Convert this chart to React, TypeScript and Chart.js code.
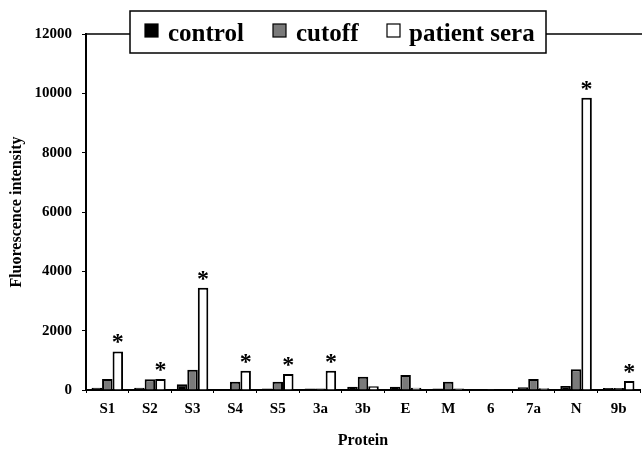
import React, { useEffect, useRef } from "react";
import { Chart, registerables } from "chart.js";

Chart.register(...registerables);

const categories = ["S1", "S2", "S3", "S4", "S5", "3a", "3b", "E", "M", "6", "7a", "N", "9b"];
const controlValues = [80, 80, 190, 15, 50, 50, 110, 110, 50, 30, 90, 135, 70];
const cutoffValues = [370, 360, 680, 280, 280, 50, 450, 505, 280, 30, 370, 700, 70];
const patientValues = [1300, 370, 3450, 650, 540, 650, 130, 80, 50, 20, 60, 9850, 300];
const significant = [true, true, true, true, true, true, false, false, false, false, false, true, true];
const yTicks = [0, 2000, 4000, 6000, 8000, 10000, 12000];
const legendLabels = ["control", "cutoff", "patient sera"];

const SERIF = "'Liberation Serif', 'Times New Roman', serif";

const framePlugin = {
  id: "framePlugin",
  afterDraw(chart: any) {
    const { ctx, chartArea } = chart;
    ctx.save();
    // top border line
    ctx.strokeStyle = "#000";
    ctx.lineWidth = 1.5;
    ctx.beginPath();
    ctx.moveTo(chartArea.left, chartArea.top);
    ctx.lineTo(chart.width, chartArea.top);
    ctx.stroke();

    // asterisks
    const meta = chart.getDatasetMeta(2);
    ctx.fillStyle = "#000";
    ctx.font = `bold 24px ${SERIF}`;
    ctx.textAlign = "center";
    ctx.textBaseline = "alphabetic";
    meta.data.forEach((bar: any, i: number) => {
      if (significant[i]) {
        ctx.fillText("*", bar.x, bar.y - 2);
      }
    });

    // legend box
    const bx = 130, by = 11, bw = 416, bh = 42;
    ctx.fillStyle = "#fff";
    ctx.fillRect(bx, by, bw, bh);
    ctx.lineWidth = 1.5;
    ctx.strokeStyle = "#000";
    ctx.strokeRect(bx, by, bw, bh);
    const fills = ["#000", "#7a7a7a", "#fff"];
    const sq = [145, 273, 387];
    const tx = [168, 296, 409];
    ctx.font = `bold 25px ${SERIF}`;
    ctx.textAlign = "left";
    ctx.textBaseline = "alphabetic";
    legendLabels.forEach((label, i) => {
      ctx.fillStyle = fills[i];
      ctx.fillRect(sq[i], 24, 13, 13);
      ctx.lineWidth = 1.2;
      ctx.strokeStyle = "#000";
      ctx.strokeRect(sq[i], 24, 13, 13);
      ctx.fillStyle = "#000";
      ctx.fillText(label, tx[i], 41);
    });
    ctx.restore();
  },
};

export default function App() {
  const canvasRef = useRef<HTMLCanvasElement | null>(null);

  useEffect(() => {
    document.body.style.margin = "0";
    document.body.style.overflow = "hidden";
    const canvas = canvasRef.current;
    if (!canvas) return;
    const ds = (label: string, data: number[], color: string) => ({
      label,
      data,
      backgroundColor: color,
      borderColor: "#000",
      borderWidth: 2,
      barPercentage: 1.0,
      categoryPercentage: 0.74,
    });
    const chart = new Chart(canvas, {
      type: "bar",
      data: {
        labels: categories,
        datasets: [
          ds(legendLabels[0], controlValues, "#000"),
          ds(legendLabels[1], cutoffValues, "#7a7a7a"),
          ds(legendLabels[2], patientValues, "#fff"),
        ],
      },
      options: {
        animation: false,
        responsive: false,
        layout: { padding: { top: 34, right: 2, left: 0, bottom: 0 } },
        plugins: {
          legend: { display: false },
          tooltip: { enabled: false },
        },
        scales: {
          x: {
            grid: {
              display: true,
              drawOnChartArea: false,
              drawTicks: true,
              tickLength: 3,
              color: "#000",
              lineWidth: 1,
              offset: true,
            },
            border: { display: true, color: "#000", width: 2 },
            ticks: {
              color: "#000",
              font: { family: SERIF, size: 15, weight: "bold" },
              padding: 7,
              maxRotation: 0,
              autoSkip: false,
            },
            title: {
              display: true,
              text: "Protein",
              color: "#000",
              font: { family: SERIF, size: 16, weight: "bold" },
              padding: { top: 0, bottom: 2 },
            },
            afterFit(scale: any) {
              scale.height = 62;
            },
          },
          y: {
            min: 0,
            max: 12000,
            afterBuildTicks(scale: any) {
              scale.ticks = yTicks.map((v) => ({ value: v }));
            },
            grid: {
              display: true,
              drawOnChartArea: false,
              drawTicks: true,
              tickLength: 4,
              color: "#000",
              lineWidth: 1,
            },
            border: { display: true, color: "#000", width: 2 },
            ticks: {
              color: "#000",
              font: { family: SERIF, size: 15, weight: "bold" },
              padding: 10,
              callback: (v: any) => String(v),
            },
            title: {
              display: true,
              text: "Fluorescence intensity",
              color: "#000",
              font: { family: SERIF, size: 16, weight: "bold" },
              padding: { top: 7, bottom: 0 },
            },
            afterFit(scale: any) {
              scale.width = 86;
            },
          },
        },
      },
      plugins: [framePlugin],
    });
    return () => chart.destroy();
  }, []);

  return (
    <div style={{ width: 642, height: 452, background: "#fff" }}>
      <canvas ref={canvasRef} width={642} height={452} style={{ display: "block" }} />
    </div>
  );
}
